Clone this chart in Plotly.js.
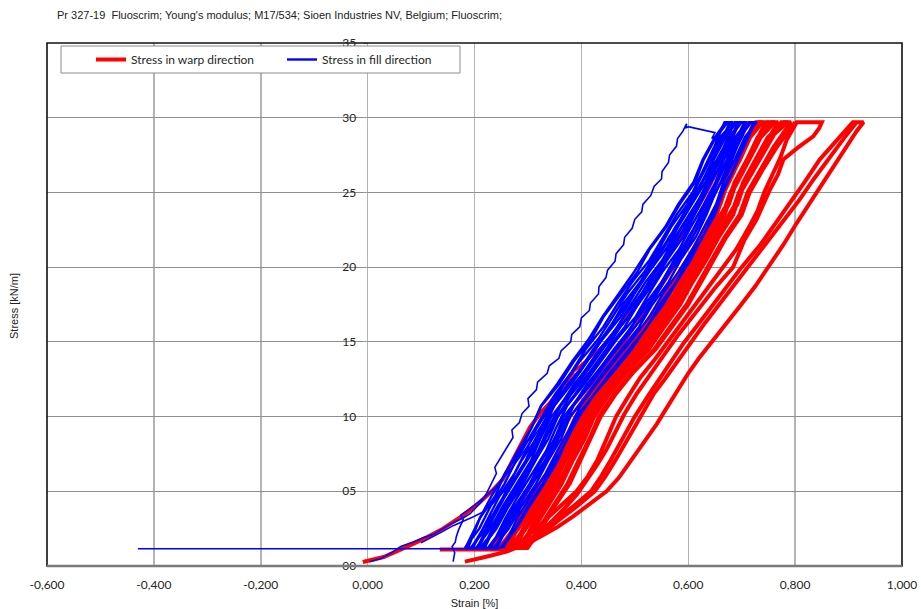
<!DOCTYPE html>
<html><head><meta charset="utf-8">
<script src="https://cdn.plot.ly/plotly-3.0.1.min.js"></script>
<style>html,body{margin:0;padding:0;background:#fff}#chart{width:921px;height:609px}</style>
</head><body><div id="chart"></div>
<script>
const xTickVals = [-0.6,-0.4,-0.2,0,0.2,0.4,0.6,0.8,1.0];
const xTickText = ['-0,600','-0,400','-0,200','0,000','0,200','0,400','0,600','0,800','1,000'];
const yTickVals = [0,5,10,15,20,25,30,35];
const yTickText = ['00','05','10','15','20','25','30','35'];

// stress levels used by the dense cycle bands (kN/m)
const bandStressUp   = [1.2,2.5,4,5.5,7,8.5,10,11.5,13,14.5,16,17.5,19,20.5,22,23.5,25,26.5,28,29.7];
const bandStressDown = [1.2,3.2,4.7,6.2,7.7,9.2,10.7,12.2,13.7,15.2,16.7,18.2,19.7,21.2,22.7,24.2,25.7,27.2,28.7,29.7];

// fill direction: dense band of cycles (strain %)
const fillBandStrain = [
 [0.182,0.209,0.230,0.256,0.277,0.302,0.327,0.351,0.382,0.408,0.441,0.467,0.495,0.528,0.553,0.578,0.608,0.628,0.648,0.668],
 [0.188,0.210,0.239,0.257,0.285,0.306,0.325,0.359,0.386,0.419,0.442,0.473,0.505,0.528,0.559,0.584,0.613,0.629,0.652,0.674],
 [0.194,0.216,0.246,0.265,0.287,0.315,0.335,0.360,0.395,0.422,0.455,0.478,0.510,0.535,0.566,0.590,0.615,0.638,0.656,0.678],
 [0.197,0.225,0.247,0.275,0.296,0.316,0.342,0.368,0.397,0.432,0.459,0.485,0.518,0.545,0.568,0.598,0.620,0.641,0.660,0.684],
 [0.203,0.230,0.253,0.279,0.305,0.323,0.344,0.376,0.405,0.434,0.468,0.493,0.520,0.552,0.575,0.602,0.628,0.643,0.666,0.687],
 [0.208,0.235,0.258,0.284,0.310,0.329,0.349,0.382,0.411,0.440,0.474,0.499,0.527,0.558,0.581,0.607,0.632,0.648,0.670,0.691],
 [0.214,0.241,0.264,0.291,0.313,0.338,0.356,0.388,0.418,0.448,0.481,0.506,0.536,0.561,0.590,0.612,0.633,0.655,0.674,0.696],
 [0.219,0.246,0.270,0.296,0.322,0.341,0.361,0.394,0.424,0.454,0.488,0.513,0.539,0.570,0.593,0.618,0.641,0.657,0.679,0.700],
 [0.225,0.252,0.276,0.303,0.325,0.350,0.367,0.400,0.430,0.461,0.494,0.519,0.550,0.574,0.602,0.623,0.642,0.664,0.682,0.705],
 [0.230,0.258,0.282,0.308,0.334,0.352,0.373,0.406,0.436,0.467,0.502,0.526,0.552,0.583,0.605,0.629,0.651,0.667,0.688,0.709],
 [0.236,0.264,0.288,0.315,0.337,0.362,0.379,0.412,0.442,0.475,0.508,0.533,0.563,0.586,0.614,0.634,0.651,0.674,0.691,0.714],
 [0.242,0.270,0.294,0.321,0.347,0.365,0.385,0.419,0.449,0.482,0.516,0.541,0.566,0.596,0.618,0.641,0.661,0.677,0.697,0.718],
 [0.248,0.276,0.300,0.327,0.350,0.374,0.391,0.424,0.455,0.489,0.523,0.547,0.577,0.600,0.627,0.646,0.661,0.684,0.701,0.723],
 [0.254,0.280,0.306,0.333,0.355,0.378,0.398,0.429,0.462,0.496,0.528,0.552,0.582,0.608,0.630,0.652,0.666,0.687,0.706,0.728]
];
const fillBandStrain2 = [
 [0.183,0.210,0.232,0.258,0.281,0.306,0.324,0.355,0.383,0.414,0.440,0.470,0.499,0.526,0.557,0.581,0.610,0.627,0.650,0.670],
 [0.193,0.221,0.243,0.269,0.295,0.314,0.337,0.363,0.397,0.425,0.453,0.485,0.511,0.541,0.564,0.594,0.618,0.636,0.659,0.679],
 [0.205,0.232,0.255,0.281,0.307,0.326,0.349,0.375,0.410,0.439,0.466,0.498,0.524,0.553,0.576,0.605,0.627,0.645,0.668,0.688],
 [0.211,0.238,0.261,0.287,0.313,0.332,0.355,0.381,0.416,0.446,0.473,0.506,0.531,0.560,0.583,0.611,0.632,0.650,0.672,0.693],
 [0.216,0.243,0.267,0.293,0.319,0.337,0.360,0.387,0.422,0.452,0.480,0.512,0.537,0.566,0.588,0.616,0.636,0.655,0.677,0.697],
 [0.227,0.255,0.278,0.305,0.331,0.349,0.372,0.399,0.434,0.466,0.493,0.525,0.550,0.579,0.600,0.627,0.646,0.664,0.685,0.706],
 [0.239,0.266,0.290,0.317,0.343,0.361,0.384,0.411,0.446,0.479,0.507,0.539,0.564,0.591,0.613,0.638,0.655,0.674,0.694,0.715],
 [0.251,0.278,0.303,0.330,0.355,0.373,0.396,0.424,0.460,0.494,0.522,0.553,0.578,0.605,0.626,0.650,0.665,0.684,0.704,0.725]
];

// warp direction: dense band of cycles (strain %)
const warpBandStrain = [
 [0.255,0.282,0.309,0.333,0.359,0.378,0.401,0.428,0.462,0.499,0.526,0.555,0.580,0.607,0.630,0.653,0.667,0.687,0.707,0.727],
 [0.263,0.289,0.315,0.342,0.364,0.386,0.406,0.433,0.468,0.506,0.533,0.563,0.587,0.614,0.637,0.660,0.674,0.697,0.716,0.739],
 [0.270,0.296,0.322,0.349,0.370,0.393,0.412,0.439,0.474,0.512,0.541,0.570,0.594,0.621,0.644,0.668,0.682,0.705,0.726,0.750],
 [0.277,0.303,0.329,0.356,0.377,0.399,0.418,0.446,0.480,0.519,0.548,0.578,0.601,0.627,0.651,0.676,0.690,0.714,0.736,0.762],
 [0.284,0.311,0.336,0.363,0.383,0.406,0.424,0.452,0.486,0.526,0.555,0.585,0.608,0.634,0.657,0.684,0.698,0.722,0.745,0.774],
 [0.292,0.318,0.343,0.370,0.390,0.412,0.430,0.458,0.492,0.532,0.563,0.593,0.616,0.641,0.664,0.692,0.706,0.731,0.755,0.786],
 [0.299,0.325,0.350,0.378,0.397,0.418,0.436,0.464,0.498,0.539,0.570,0.600,0.624,0.648,0.671,0.700,0.715,0.739,0.765,0.800]
];
const warpBandStrain2 = [
 [0.259,0.285,0.311,0.338,0.361,0.383,0.403,0.430,0.464,0.502,0.529,0.559,0.584,0.610,0.634,0.656,0.670,0.692,0.710,0.732],
 [0.266,0.293,0.319,0.345,0.368,0.390,0.409,0.437,0.471,0.509,0.537,0.567,0.591,0.617,0.641,0.664,0.679,0.701,0.721,0.745],
 [0.274,0.300,0.326,0.352,0.374,0.396,0.415,0.443,0.477,0.516,0.544,0.574,0.599,0.624,0.648,0.672,0.687,0.710,0.730,0.756],
 [0.281,0.307,0.333,0.360,0.381,0.402,0.421,0.449,0.483,0.522,0.552,0.582,0.606,0.631,0.654,0.680,0.695,0.718,0.740,0.768],
 [0.288,0.314,0.340,0.367,0.387,0.409,0.427,0.455,0.489,0.529,0.559,0.589,0.613,0.638,0.661,0.688,0.703,0.727,0.749,0.780],
 [0.295,0.321,0.347,0.374,0.394,0.415,0.433,0.461,0.495,0.536,0.566,0.597,0.620,0.644,0.668,0.696,0.711,0.735,0.759,0.792]
];

// warp: cycle to 0.85 %
const warpLoop2Strain = [0.275,0.300,0.330,0.362,0.391,0.412,0.430,0.447,0.465,0.487,0.510,0.537,0.562,0.590,0.612,0.640,0.666,0.690,0.714,0.730,0.742,0.760,0.772,0.784,0.795,0.803,0.850,
 0.845,0.834,0.805,0.778,0.768,0.753,0.740,0.728,0.705,0.684,0.650,0.615,0.580,0.552,0.528,0.503,0.481,0.462,0.447,0.430,0.412,0.392,0.367,0.342,0.313,0.290];
const warpLoop2Stress = [1.2,2.0,3.0,4.0,5.0,6.0,7.1,8.5,10.0,11.3,12.6,13.8,15.0,16.3,17.4,18.7,20.0,21.2,22.7,23.8,25.0,26.3,27.3,28.5,29.2,29.7,29.7,
 29.3,28.75,28.0,27.2,26.2,25.2,24.2,23.2,21.8,20.0,18.6,17.0,15.4,14.0,12.8,11.5,10.2,8.9,7.8,6.8,5.8,4.8,3.8,2.9,2.0,1.3];

// warp: cycle to 0.93 % (up, then down)
const warpLoop3UpStrain = [0.285,0.315,0.348,0.385,0.418,0.437,0.455,0.477,0.500,0.527,0.550,0.572,0.591,0.617,0.645,0.672,0.700,0.735,0.765,0.790,0.818,0.846,0.877,0.908];
const warpLoop3UpStress = [1.2,2.0,3.0,4.0,5.0,6.0,7.1,8.5,10.0,11.5,12.7,13.8,14.9,16.1,17.4,18.7,20.0,21.5,23.0,24.3,25.7,27.2,28.5,29.7];
const warpLoop3DownStrain = [0.928,0.915,0.895,0.871,0.845,0.822,0.803,0.778,0.750,0.725,0.697,0.668,0.641,0.620,0.600,0.580,0.560,0.541,0.515,0.490,0.470,0.447,0.415,0.384,0.355,0.323,0.290,0.260,0.220,0.182];
const warpLoop3DownStress = [29.7,29.1,28.0,26.7,25.3,24.1,22.95,21.5,20.0,18.7,17.4,16.1,14.9,13.9,12.9,11.8,10.6,9.5,8.2,6.9,5.9,5.0,4.1,3.3,2.6,1.96,1.4,0.96,0.6,0.29];
const warpLoop3MidStrain = [0.290,0.322,0.355,0.392,0.425,0.445,0.464,0.487,0.510,0.535,0.556,0.582,0.605,0.632,0.660,0.688,0.716,0.748,0.778,0.808,0.835,0.865,0.895,0.915];
const warpLoop3MidStress = [1.2,2.0,3.0,4.0,5.0,6.0,7.1,8.5,10.0,11.5,12.5,13.8,15.0,16.3,17.6,18.9,20.2,21.7,23.1,24.5,25.9,27.4,28.8,29.7];

// warp: first loading (visible part) and its continuation inside the fill band
const warpFirstStrain = [-0.009,0.030,0.074,0.110,0.141,0.175,0.205,0.232,0.253,0.270,0.287,0.304,0.325,0.341,0.360,0.385];
const warpFirstStress = [0.27,0.6,1.3,1.9,2.5,3.3,4.1,5.0,5.8,7.0,8.2,9.3,10.3,10.9,11.8,13.0];
const warpFirstInnerStrain = [0.385,0.450,0.500,0.550,0.595,0.635,0.670,0.695,0.710,0.690,0.672,0.651,0.630,0.608,0.583,0.555,0.528,0.500,0.472,0.440,0.410,0.380,0.356,0.333,0.308,0.284,0.258,0.232];
const warpFirstInnerStress = [13.0,15.0,17.5,20.0,22.5,25.0,27.5,29.7,29.7,28.0,26.5,25.0,23.5,22.0,20.5,19.0,17.5,16.0,14.5,13.0,11.5,10.0,8.5,7.0,5.5,4.0,2.5,1.2];
const warpInnerStrain = [0.245,0.272,0.298,0.324,0.348,0.369,0.388,0.421,0.452,0.486,0.519,0.545,0.571,0.598,0.623,0.644,0.663,0.682,0.700,0.722];
const warpFlatStrain = [0.135,0.265];
const warpFlatStress = [1.1,1.1];

// fill: first loading (jagged), other starts, flat segment
const fillFirstStrain = [0.004,0.025,0.045,0.062,0.085,0.105,0.122,0.140,0.160,0.178,0.192,0.205,0.215,0.223,0.232,0.241,0.238,0.250,
 0.262,0.272,0.270,0.284,0.289,0.302,0.300,0.316,0.318,0.336,0.340,0.358,0.362,0.380,0.382,0.397,0.400,0.415,0.417,0.432,0.433,0.446,0.449,
 0.463,0.465,0.479,0.481,0.495,0.500,0.513,0.515,0.530,0.536,0.550,0.551,0.563,0.565,0.578,0.580,0.590,0.597,
 0.595,0.600,0.650,0.644,0.653,0.662,0.668];
const fillFirstStress = [0.29,0.5,0.9,1.3,1.6,1.9,2.1,2.5,2.9,3.2,3.5,4.0,4.4,4.9,5.5,6.2,6.6,7.3,
 8.0,8.6,9.1,9.6,10.2,10.7,11.2,11.8,12.3,12.9,13.4,13.9,14.4,15.0,15.5,16.0,16.6,17.1,17.6,18.2,18.7,19.3,19.8,
 20.4,20.9,21.5,22.0,22.6,23.2,23.7,24.2,24.8,25.4,25.9,26.4,27.0,27.5,28.1,28.6,29.1,29.6,
 29.3,29.4,29.0,28.6,28.8,29.3,29.7];
const fillSecondStrain = [0.160,0.163,0.158,0.164,0.166,0.170,0.179,0.174,0.190,0.205,0.222,0.240,0.262,0.285,0.305,0.325,0.345];
const fillSecondStress = [0.3,0.9,1.3,1.6,1.96,2.4,3.1,3.4,3.8,4.2,4.7,5.3,6.2,7.3,8.3,9.4,10.6];
const fillThirdStrain = [0.100,0.120,0.140,0.160,0.180,0.198,0.215,0.235,0.255,0.275];
const fillThirdStress = [1.55,1.9,2.3,2.7,3.0,3.3,3.6,4.2,5.0,6.0];
const fillFlatStrain = [-0.430,0.245];
const fillFlatStress = [1.15,1.15];

const RED = '#ff0000', BLUE = '#0000ff';
const WARP = 'Stress in warp direction', FILL = 'Stress in fill direction';

function zigzag(curves, sUp, sDown) {
  const x = [], y = [];
  curves.forEach((c, k) => {
    if (k % 2 === 0) { for (let i = 0; i < c.length; i++) { x.push(c[i]); y.push(sUp[i]); } }
    else { for (let i = c.length - 1; i >= 0; i--) { x.push(c[i]); y.push(sDown[i]); } }
  });
  return {x, y};
}

const wb = zigzag(warpBandStrain, bandStressUp, bandStressDown);
const wb2 = zigzag(warpBandStrain2, bandStressDown, bandStressUp);
const fb = zigzag(fillBandStrain, bandStressUp, bandStressDown);
const fb2 = zigzag(fillBandStrain2, bandStressDown, bandStressUp);
const loop3x = warpLoop3UpStrain.concat(warpLoop3DownStrain);
const loop3y = warpLoop3UpStress.concat(warpLoop3DownStress);

const rl = {color: RED, width: 4};
const rlThin = {color: RED, width: 2.6};
const bl = {color: BLUE, width: 1.6};
const blBand = {color: BLUE, width: 2.4};
function tr(x, y, line, extra) {
  return Object.assign({type:'scatter', mode:'lines', x:x, y:y, line:line, showlegend:false, hoverinfo:'skip'}, extra || {});
}
const traces = [
  tr(wb.x, wb.y, rl, {name:WARP, legendgroup:'w', showlegend:true}),
  tr(wb2.x, wb2.y, rl, {legendgroup:'w'}),
  tr(warpLoop2Strain, warpLoop2Stress, rl, {legendgroup:'w'}),
  tr(loop3x, loop3y, rl, {legendgroup:'w'}),
  tr(warpLoop3MidStrain, warpLoop3MidStress, rl, {legendgroup:'w'}),
  tr(warpFirstStrain, warpFirstStress, rl, {legendgroup:'w'}),
  tr(warpFirstInnerStrain, warpFirstInnerStress, rlThin, {legendgroup:'w'}),
  tr(warpInnerStrain, bandStressUp, rlThin, {legendgroup:'w'}),
  tr(warpFlatStrain, warpFlatStress, rl, {legendgroup:'w'}),
  tr(fb.x, fb.y, blBand, {name:FILL, legendgroup:'f', showlegend:true}),
  tr(fb2.x, fb2.y, blBand, {legendgroup:'f'}),
  tr(fillFirstStrain, fillFirstStress, bl, {legendgroup:'f'}),
  tr(fillSecondStrain, fillSecondStress, bl, {legendgroup:'f'}),
  tr(fillThirdStrain, fillThirdStress, bl, {legendgroup:'f'}),
  tr(fillFlatStrain, fillFlatStress, bl, {legendgroup:'f'})
];

const tickFont = {family:'Lato, "Open Sans", sans-serif', size:12, color:'#262626'};
const arial = {family:'"Liberation Sans", Arial, sans-serif', size:11, color:'#222'};

const layout = {
  width:921, height:609,
  margin:{l:47, r:19, t:43, b:43},
  paper_bgcolor:'#ffffff', plot_bgcolor:'#ffffff',
  title:{text:"Pr 327-19\u00a0 Fluoscrim; Young's modulus; M17/534; Sioen Industries NV, Belgium; Fluoscrim;",
         x:57/921, xanchor:'left', xref:'container', y:1-15/609, yref:'container', yanchor:'middle', font:arial},
  xaxis:{range:[-0.6,1.0], tickmode:'array', tickvals:xTickVals, ticktext:xTickText,
         showgrid:true, gridcolor:'#b4b4b4', gridwidth:1.5, zeroline:false, showline:false, ticks:'',
         tickfont:tickFont, ticklabelstandoff:10,
         title:{text:'Strain [%]', font:arial, standoff:8}},
  yaxis:{range:[0,35], tickmode:'array', tickvals:yTickVals, ticktext:yTickText,
         anchor:'free', position:0.375, side:'left',
         showgrid:true, gridcolor:'#8f8f8f', gridwidth:1, zeroline:false, showline:false,
         ticks:'outside', ticklen:5, tickcolor:'#9a9a9a', tickfont:tickFont, ticklabelstandoff:4},
  showlegend:true,
  legend:{orientation:'h', x:(91-47)/855, xanchor:'left', y:(566-59.5)/523, yanchor:'middle',
          bgcolor:'rgba(0,0,0,0)', borderwidth:0, font:tickFont, entrywidth:146, itemwidth:30},
  shapes:[
    {type:'rect', xref:'paper', yref:'paper', x0:(61-47)/855, x1:(460-47)/855, y0:(566-73)/523, y1:(566-46)/523,
     fillcolor:'#ffffff', line:{color:'#8c8c8c', width:1}, layer:'above'},
    {type:'rect', xref:'paper', yref:'paper', x0:0, x1:1, y0:0, y1:1, fillcolor:'rgba(0,0,0,0)',
     line:{color:'#111111', width:1.6}, layer:'above'},
    {type:'line', xref:'paper', yref:'paper', x0:0, x1:1, y0:0, y1:0, line:{color:'#7a7a7a', width:2.5}, layer:'above'}
  ],
  annotations:[
    {text:'Stress [kN/m]', xref:'paper', yref:'paper', x:(14-47)/855, y:(566-306)/523, xanchor:'center', yanchor:'middle',
     textangle:-90, showarrow:false, font:arial}
  ]
};

Plotly.newPlot('chart', traces, layout, {staticPlot:true, displayModeBar:false});
</script></body></html>
